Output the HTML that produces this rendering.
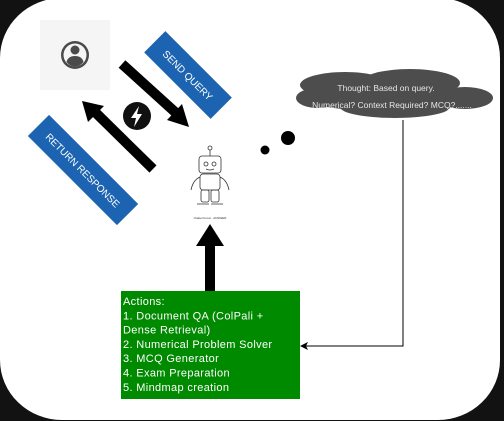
<!DOCTYPE html>
<html><head><style>
html,body{margin:0;padding:0;background:#121212;}
svg{display:block;}
text{font-family:"Liberation Sans",sans-serif;}
</style></head><body>
<svg width="504" height="421" viewBox="0 0 504 421">
<rect x="0" y="0" width="504" height="421" fill="#121212"/>
<rect x="0" y="-2" width="500" height="422" rx="62" ry="60" fill="#fff"/>
<rect x="40" y="20" width="70" height="70" fill="#f5f5f5"/>
<circle cx="75" cy="55" r="14" fill="#4a4a4a"/>
<circle cx="75" cy="55" r="11.5" fill="#f5f5f5"/>
<circle cx="75" cy="50" r="4.5" fill="#4a4a4a"/>
<path d="M66.5 62 Q68 56 75 56 Q82 56 83.5 62 Q80 66.5 75 66.5 Q70 66.5 66.5 62Z" fill="#4a4a4a"/>
<line x1="122" y1="64" x2="175" y2="112" stroke="#000" stroke-width="10"/>
<polygon points="189,127 167,120 182,104" fill="#000"/>
<line x1="153" y1="169" x2="96" y2="113" stroke="#000" stroke-width="10"/>
<polygon points="82,101 104,106 88,122" fill="#000"/>
<circle cx="137" cy="116" r="14" fill="#111"/>
<polygon points="139,106 131,118 136,118 134,127 142,114 137,114" fill="#fff"/>
<g transform="translate(188,75) rotate(45)">
<rect x="-47" y="-15" width="94" height="30" fill="#1c64b1"/>
<text x="0" y="4" font-size="10" fill="#fff" text-anchor="middle">SEND QUERY</text>
</g>
<g transform="translate(83,170) rotate(45)">
<rect x="-63" y="-15" width="126" height="30" fill="#1c64b1"/>
<text x="0" y="4" font-size="10" fill="#fff" text-anchor="middle">RETURN RESPONSE</text>
</g>
<g fill="none" stroke="#333" stroke-width="0.8">
<line x1="210" y1="150" x2="210" y2="156"/><circle cx="210" cy="148" r="2"/>
<rect x="199" y="156" width="22" height="17" rx="3"/>
<circle cx="206" cy="164" r="2"/><circle cx="214" cy="164" r="2"/>
<path d="M206 169 Q210 171 214 169"/>
<rect x="200" y="174" width="20" height="16" rx="3"/>
<path d="M200 177 Q193 180 191 190 M220 177 Q227 180 229 190"/>
<rect x="201" y="190" width="8" height="12" rx="2"/><rect x="211" y="190" width="8" height="12" rx="2"/>
<path d="M197 204 h12 M211 204 h12"/>
</g>
<text x="210" y="219" font-size="3" fill="#333" text-anchor="middle">chatter.bot.ai · ANSWER</text>
<rect x="205" y="246" width="10" height="45" fill="#000"/>
<polygon points="196,246 224,246 210,224" fill="#000"/>
<rect x="121" y="291" width="179" height="108" fill="#008a00"/>
<g font-size="11" fill="#fff" letter-spacing="0.35">
<text x="123" y="305">Actions:</text>
<text x="123" y="319.3">1. Document QA (ColPali +</text>
<text x="123" y="333.6">Dense Retrieval)</text>
<text x="123" y="347.9">2. Numerical Problem Solver</text>
<text x="123" y="362.2">3. MCQ Generator</text>
<text x="123" y="376.5">4. Exam Preparation</text>
<text x="123" y="390.8">5. Mindmap creation</text>
</g>
<g fill="#4d4d4d">
<ellipse cx="345" cy="85" rx="45" ry="13"/>
<ellipse cx="410" cy="83" rx="50" ry="14"/>
<ellipse cx="385" cy="96" rx="85" ry="15"/>
<ellipse cx="318" cy="98" rx="22" ry="10"/>
<ellipse cx="465" cy="98" rx="28" ry="11"/>
<ellipse cx="395" cy="107" rx="55" ry="11"/>
</g>
<text x="386" y="91" font-size="8.5" fill="#e6e6e6" text-anchor="middle">Thought: Based on query.</text>
<text x="392" y="108" font-size="8.5" fill="#e6e6e6" text-anchor="middle">Numerical? Context Required? MCQ?.......</text>
<circle cx="265" cy="150" r="4.5" fill="#000"/>
<circle cx="288" cy="138" r="7" fill="#000"/>
<polyline points="403,120 403,346 306,346" fill="none" stroke="#000" stroke-width="1"/>
<polygon points="300,346 308,342 306,346 308,350" fill="#000"/>
</svg>
</body></html>
